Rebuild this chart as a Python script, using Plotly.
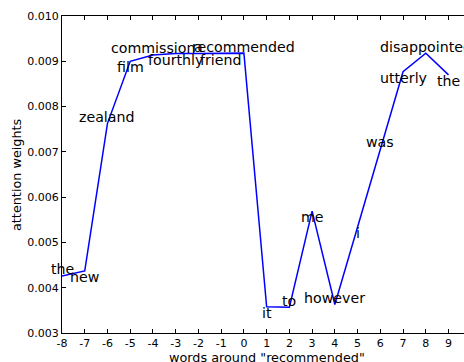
import plotly.graph_objects as go

positions = list(range(-8, 10))
weights = [0.00426, 0.00437, 0.00763, 0.00900, 0.00914, 0.00917, 0.00917, 0.00917, 0.00918,
           0.00358, 0.00357, 0.00569, 0.00363, 0.00534, 0.00707, 0.00877, 0.00918, 0.00870]
words = ["the", "new", "zealand", "film", "commission", "fourthly", "a", "friend", "recommended",
         "it", "to", "me", "however", "i", "was", "utterly", "disappointed", "the"]
y_ticks = [0.003, 0.004, 0.005, 0.006, 0.007, 0.008, 0.009, 0.010]

FONT = "DejaVu Sans"

fig = go.Figure()
fig.add_trace(go.Scatter(x=positions, y=weights, mode="lines",
                         line=dict(color="#0000ff", width=1.5), hoverinfo="skip",
                         showlegend=False, cliponaxis=False))

annotations = []
for i, (xv, yv, w) in enumerate(zip(positions, weights, words)):
    shift = 6.5 if i % 2 == 0 else -6
    annotations.append(dict(x=xv, y=yv, xref="x", yref="y", text=w, showarrow=False,
                            xanchor="center", yanchor="middle", yshift=shift,
                            font=dict(family=FONT, size=14.2, color="black")))

annotations.append(dict(x=1, y=0, xref="x", yref="paper", text='words around "recommended"',
                        showarrow=False, xanchor="center", yanchor="middle", yshift=-24,
                        font=dict(family=FONT, size=12.8, color="black")))
annotations.append(dict(x=0, y=0.5, xref="paper", yref="paper", text="attention weights",
                        showarrow=False, xanchor="center", yanchor="middle", xshift=-45.5,
                        textangle=-90, font=dict(family=FONT, size=12.8, color="black")))

fig.update_layout(
    width=464, height=362,
    margin=dict(l=62, r=0, t=16, b=29, autoexpand=False),
    paper_bgcolor="white", plot_bgcolor="white",
    font=dict(family=FONT, size=11, color="black"),
    annotations=annotations,
    showlegend=False,
)
fig.update_xaxes(range=[-8, 9.68], tickmode="array", tickvals=positions,
                 ticktext=[str(p) for p in positions], automargin=False,
                 showgrid=False, zeroline=False, showline=True, linecolor="black", linewidth=1,
                 mirror="ticks", ticks="inside", ticklen=4, tickcolor="black",
                 tickfont=dict(family=FONT, size=11))
fig.update_yaxes(range=[0.003, 0.010], tickmode="array", tickvals=y_ticks,
                 ticktext=["%.3f" % v for v in y_ticks], automargin=False,
                 showgrid=False, zeroline=False, showline=True, linecolor="black", linewidth=1,
                 ticks="inside", ticklen=4, tickcolor="black",
                 tickfont=dict(family=FONT, size=11))

fig.write_html("out.html", config={"displayModeBar": False},
               post_script="document.body.style.margin='0';document.body.style.overflow='hidden';")
